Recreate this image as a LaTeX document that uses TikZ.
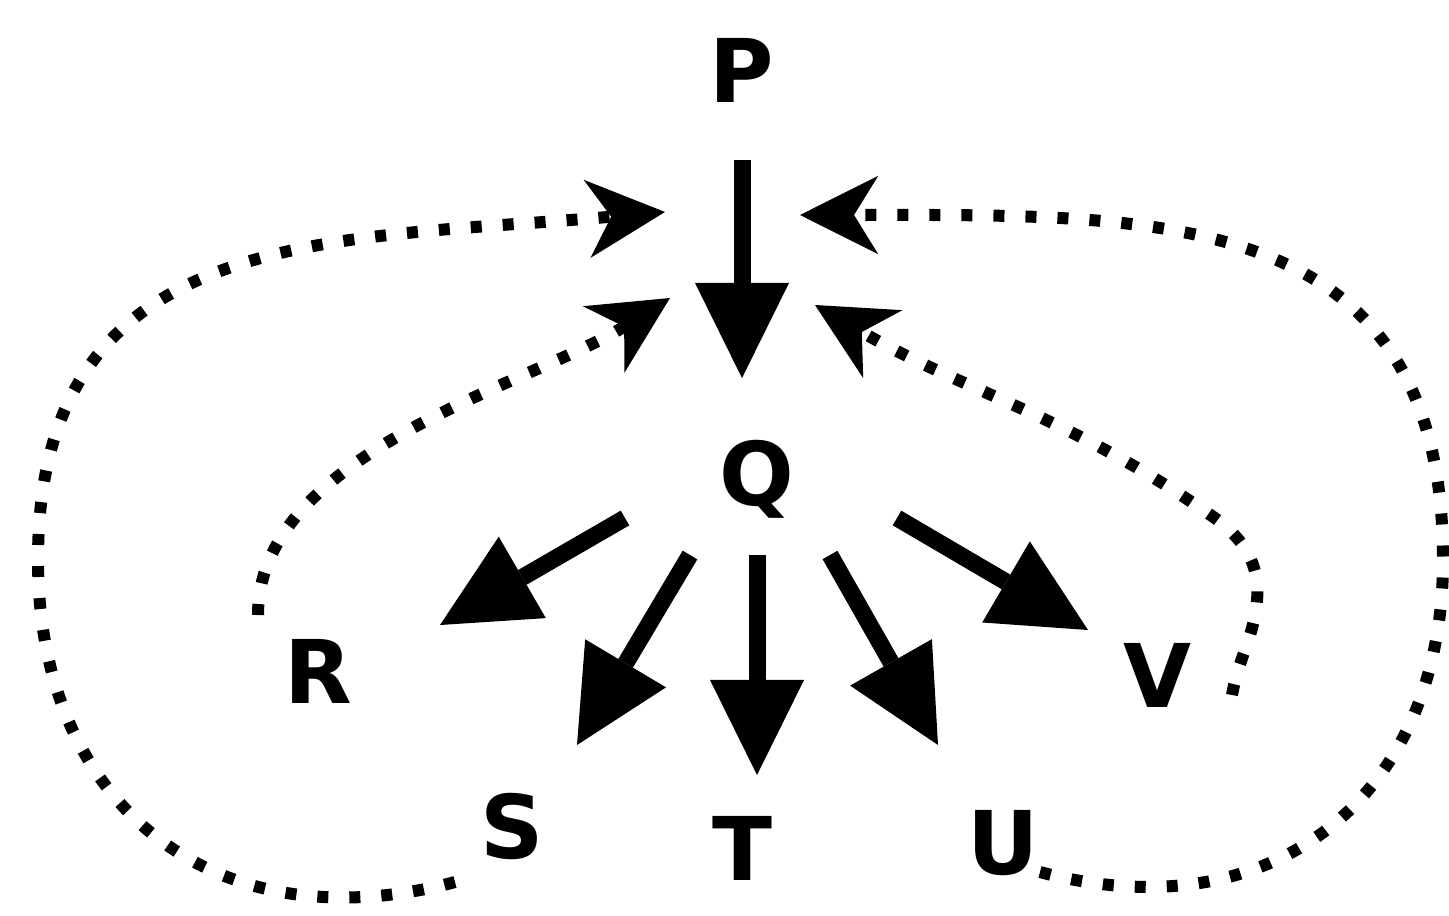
\documentclass[tikz,border=0pt]{standalone}
\usepackage{fontspec}
\setmainfont{DejaVu Sans}
\usetikzlibrary{arrows.meta}
\begin{document}
\begin{tikzpicture}[x=0.01cm,y=-0.01cm,
  lab/.style={font=\bfseries\fontsize{25}{30}\selectfont, inner sep=0pt, text height=0.64cm, text depth=0pt},
  bigarrow/.style={line width=0.17cm, -{Triangle[length=0.95cm,width=0.94cm,line width=0pt]}},
  dotarrow/.style={line width=0.12cm, dash pattern=on 0.11cm off 0.21cm,
    -{Stealth[length=0.78cm,width=0.78cm,inset=0.24cm,line width=0.04cm]}}]
\useasboundingbox (0,0) rectangle (1449,915);
% labels
\node[lab] (P) at (742,70) {P};
\node[lab] (Q) at (757,473) {Q};
\node[lab] (R) at (318,671) {R};
\node[lab] (S) at (512,826) {S};
\node[lab] (T) at (742,848) {T};
\node[lab] (U) at (1003,842) {U};
\node[lab] (V) at (1157,675) {V};
% solid arrow end points
\coordinate (pq0) at (742,160); \coordinate (pq1) at (742,378);
\coordinate (qr0) at (625,518); \coordinate (qr1) at (440,625);
\coordinate (qs0) at (690,555); \coordinate (qs1) at (577,745);
\coordinate (qt0) at (757,555); \coordinate (qt1) at (757,775);
\coordinate (qu0) at (830,555); \coordinate (qu1) at (938,745);
\coordinate (qv0) at (897,518); \coordinate (qv1) at (1088,630);
\draw[bigarrow] (pq0) -- (pq1);
\draw[bigarrow] (qr0) -- (qr1);
\draw[bigarrow] (qs0) -- (qs1);
\draw[bigarrow] (qt0) -- (qt1);
\draw[bigarrow] (qu0) -- (qu1);
\draw[bigarrow] (qv0) -- (qv1);
% dotted feedback arrows
\coordinate (oL0) at (455,882); \coordinate (oLm) at (38,560); \coordinate (oL1) at (665,212);
\coordinate (iL0) at (258,615); \coordinate (iL1) at (670,298);
\coordinate (iR0) at (1232,695); \coordinate (iRa) at (1257,600); \coordinate (iRb) at (1212,516); \coordinate (iR1) at (815,305);
\coordinate (oR0) at (1040,872); \coordinate (oRm) at (1443,560); \coordinate (oR1) at (800,215);
\draw[dotarrow] (oL0) to[out=195,in=-90,looseness=1.2] (oLm) to[out=90,in=185,looseness=1.2] (oL1);
\draw[dotarrow] (iL0) to[out=90,in=212,looseness=0.8] (iL1);
\draw[dotarrow] (iR0) to[out=80,in=-95] (iRa) to[out=85,in=-35] (iRb) to[out=145,in=-30] (iR1);
\draw[dotarrow] (oR0) to[out=-15,in=-90,looseness=1.2] (oRm) to[out=90,in=0,looseness=1.25] (oR1);
\end{tikzpicture}
\end{document}
